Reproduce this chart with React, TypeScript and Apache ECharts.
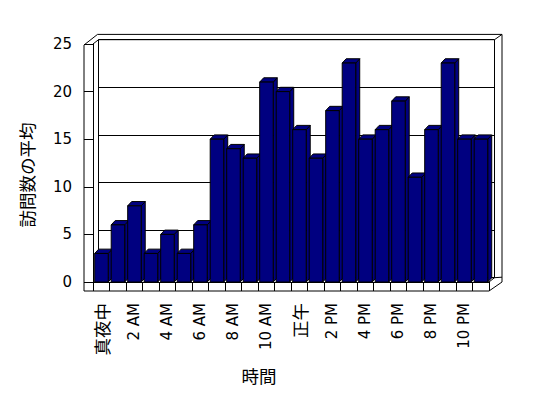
import React, { useEffect, useRef } from "react";
import * as echarts from "echarts";

const hours = [
  "真夜中", "1 AM", "2 AM", "3 AM", "4 AM", "5 AM", "6 AM", "7 AM", "8 AM", "9 AM", "10 AM", "11 AM",
  "正午", "1 PM", "2 PM", "3 PM", "4 PM", "5 PM", "6 PM", "7 PM", "8 PM", "9 PM", "10 PM", "11 PM",
];
const visits = [3, 6, 8, 3, 5, 3, 6, 15, 14, 13, 21, 20, 16, 13, 18, 23, 15, 16, 19, 11, 16, 23, 15, 15];
const yTicks = { min: 0, max: 25, interval: 5 };
const yTitle = "訪問数の平均";
const xTitle = "時間";

const FONT = "'DejaVu Sans', 'Noto Sans CJK JP', sans-serif";
const CJK = "'Noto Sans CJK JP', sans-serif";
const G = { left: 93, top: 44, width: 396, height: 238 };
const DX = 5.5;
const DY = 4.3;
const BAR_DX = 4;
const BAR_DY = 4.3;

export default function App() {
  const ref = useRef<HTMLDivElement>(null);
  useEffect(() => {
    if (!ref.current) return;
    const chart = echarts.init(ref.current, undefined, { renderer: "svg" });
    const right = G.left + G.width;
    const bottom = G.top + G.height;
    const line = (x1: number, y1: number, x2: number, y2: number) => ({
      type: "line",
      shape: { x1, y1, x2, y2 },
      style: { stroke: "#000", lineWidth: 1 },
      z: 1,
    });
    chart.setOption({
      animation: false,
      backgroundColor: "#fff",
      textStyle: { fontFamily: FONT },
      grid: [
        { left: G.left, top: G.top, width: G.width, height: G.height, containLabel: false },
        { left: G.left + DX, top: G.top - DY, width: G.width, height: G.height, containLabel: false },
      ],
      xAxis: [
        {
          type: "category",
          gridIndex: 0,
          data: hours,
          boundaryGap: true,
          axisLine: { show: true, lineStyle: { color: "#000", width: 1 } },
          axisTick: { show: true, length: 9, interval: 0, lineStyle: { color: "#000" } },
          axisLabel: {
            interval: 1,
            rotate: 90,
            margin: 21,
            fontSize: 15,
            color: "#000",
            fontFamily: FONT,
            formatter: (v: string) => (/[^\x00-\x7f]/.test(v) ? `{cjk|${v}}` : v),
            rich: {
              cjk: { fontSize: 17.5, fontFamily: CJK, color: "#000" },
            },
          },
          splitLine: { show: false },
          z: 5,
        },
        {
          type: "category",
          gridIndex: 1,
          data: hours,
          show: false,
        },
      ],
      yAxis: [
        {
          type: "value",
          gridIndex: 0,
          min: yTicks.min,
          max: yTicks.max,
          interval: yTicks.interval,
          axisLine: { show: true, lineStyle: { color: "#000", width: 1 } },
          axisTick: { show: true, length: 9, lineStyle: { color: "#000" } },
          axisLabel: { margin: 21, fontSize: 15, color: "#000", fontFamily: FONT },
          splitLine: { show: false },
        },
        {
          type: "value",
          gridIndex: 1,
          min: yTicks.min,
          max: yTicks.max,
          interval: yTicks.interval,
          axisLine: { show: false },
          axisTick: { show: false },
          axisLabel: { show: false },
          splitLine: { show: true, lineStyle: { color: "#000", width: 1 } },
        },
      ],
      graphic: [
        {
          type: "rect",
          shape: { x: G.left + DX, y: G.top - DY, width: G.width, height: G.height },
          style: { fill: "none", stroke: "#000", lineWidth: 1 },
          z: 1,
        },
        {
          type: "polyline",
          shape: {
            points: [
              [84, bottom + 9],
              [84, G.top + 1],
              [G.left + DX - 1, G.top - DY - 5.3],
              [right + DX + 7.5, G.top - DY - 5.3],
              [right + DX + 7.5, bottom],
              [right, bottom + 9],
            ],
          },
          style: { fill: "none", stroke: "#000", lineWidth: 1 },
          z: 1,
        },
        line(84, bottom + 9, right, bottom + 9),
        line(G.left, G.top, G.left + DX, G.top - DY),
        line(right + DX, G.top - DY, right + DX + 7.5, G.top - DY - 5.3),
        line(right, bottom, right + DX, bottom - DY),
        line(right + DX, bottom - DY, right + DX + 7.5, bottom - DY - 0.5),
        {
          type: "text",
          x: 26,
          y: 175,
          rotation: Math.PI / 2,
          style: {
            text: yTitle,
            font: `17.5px ${CJK}`,
            fill: "#000",
            align: "center",
            verticalAlign: "middle",
          },
        },
        {
          type: "text",
          x: 259,
          y: 375.5,
          style: {
            text: xTitle,
            font: `17.5px ${CJK}`,
            fill: "#000",
            align: "center",
            verticalAlign: "middle",
          },
        },
      ],
      series: [
        {
          type: "custom",
          xAxisIndex: 0,
          yAxisIndex: 0,
          data: visits.map((v, i) => [i, v]),
          z: 10,
          renderItem: (params: any, api: any) => {
            const idx = api.value(0);
            const val = api.value(1);
            const top = api.coord([idx, val]);
            const base = api.coord([idx, 0]);
            const band = api.size([1, 0])[0];
            const x0 = top[0] - band / 2 + 1.7;
            const w = band * 0.82;
            const yT = top[1];
            const yB = base[1];
            const style = { fill: "#000080", stroke: "#000", lineWidth: 1 };
            return {
              type: "group",
              children: [
                {
                  type: "polygon",
                  shape: {
                    points: [
                      [x0 + w, yT],
                      [x0 + w + BAR_DX, yT - BAR_DY],
                      [x0 + w + BAR_DX, yB - BAR_DY],
                      [x0 + w, yB],
                    ],
                  },
                  style,
                },
                {
                  type: "polygon",
                  shape: {
                    points: [
                      [x0, yT],
                      [x0 + BAR_DX, yT - BAR_DY],
                      [x0 + w + BAR_DX, yT - BAR_DY],
                      [x0 + w, yT],
                    ],
                  },
                  style,
                },
                {
                  type: "rect",
                  shape: { x: x0, y: yT, width: w, height: yB - yT },
                  style,
                },
              ],
            };
          },
        },
      ],
    });
    return () => chart.dispose();
  }, []);
  return (
    <div
      ref={ref}
      style={{ position: "absolute", left: 0, top: 0, width: 548, height: 398 }}
    />
  );
}
